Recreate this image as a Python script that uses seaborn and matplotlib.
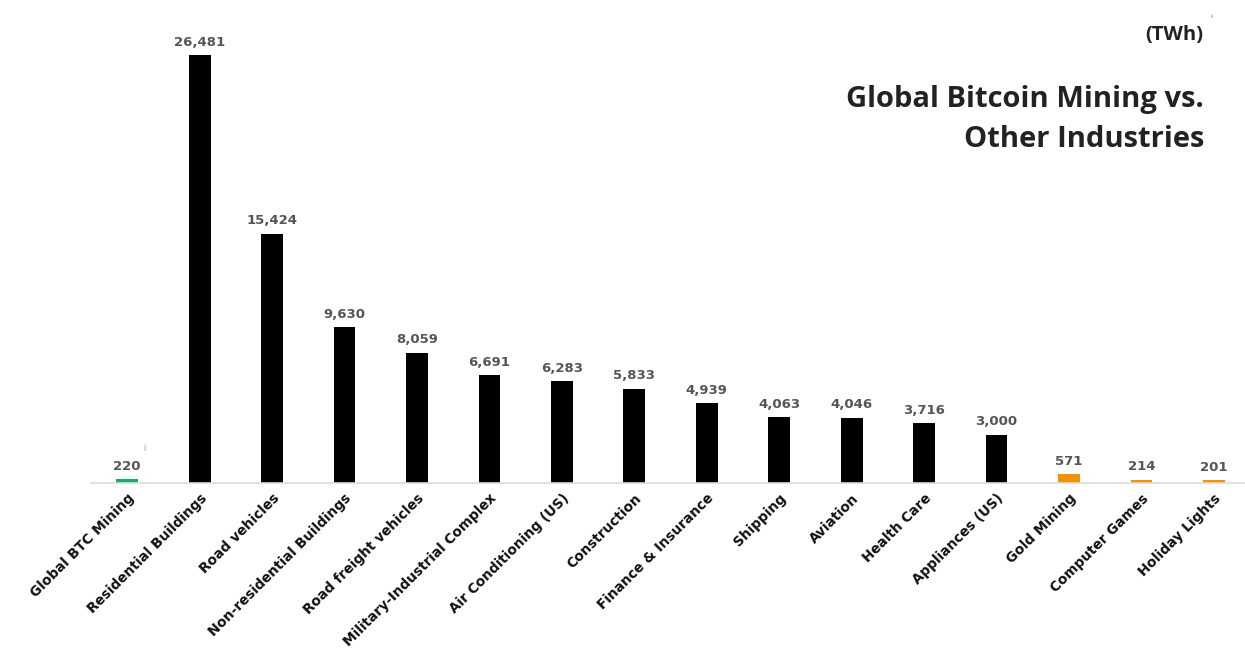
import matplotlib
matplotlib.use("Agg")
import matplotlib.pyplot as plt
import seaborn as sns
import pandas as pd

categories = ["Global BTC Mining", "Residential Buildings", "Road vehicles",
              "Non-residential Buildings", "Road freight vehicles",
              "Military-Industrial Complex", "Air Conditioning (US)", "Construction",
              "Finance & Insurance", "Shipping", "Aviation", "Health Care",
              "Appliances (US)", "Gold Mining", "Computer Games", "Holiday Lights"]
values_twh = [220, 26481, 15424, 9630, 8059, 6691, 6283, 5833,
              4939, 4063, 4046, 3716, 3000, 571, 214, 201]
value_labels = ["220", "26,481", "15,424", "9,630", "8,059", "6,691", "6,283", "5,833",
                "4,939", "4,063", "4,046", "3,716", "3,000", "571", "214", "201"]
groups = ["btc"] + ["other"] * 12 + ["small"] * 3

GREEN = "#17ad62"
BLACK = "#000000"
ORANGE = "#f39200"
group_colors = {"btc": GREEN, "other": BLACK, "small": ORANGE}
bar_colors = [group_colors[g] for g in groups]

df = pd.DataFrame({"category": categories, "value": values_twh})

sns.set_theme(style="white")
plt.rcParams["font.family"] = ["DejaVu Sans"]

fig = plt.figure(figsize=(12.45, 6.54), dpi=100)
ax = fig.add_axes([91 / 1245, (654 - 483) / 654, (1245 - 91) / 1245, 483 / 654])

sns.barplot(data=df, x="category", y="value", hue="category",
            palette=bar_colors, legend=False, width=0.30, ax=ax,
            saturation=1, edgecolor="none")

ax.set_xlim(-0.5, 15.43)
ax.set_ylim(0, 29884)

for patch, lab in zip(ax.patches, value_labels):
    cx = patch.get_x() + patch.get_width() / 2
    h = patch.get_height()
    ax.annotate(lab, (cx, h), xytext=(0, 4.5), textcoords="offset points",
                ha="center", va="bottom", fontsize=9.5, fontweight="bold",
                color="#555555")

# superscript note mark on the BTC value
first = ax.patches[0]
ax.annotate("i", (first.get_x() + first.get_width() / 2, first.get_height()),
            xytext=(12, 19), textcoords="offset points", ha="center", va="bottom",
            fontsize=5.5, color="#888888")

ax.set_xlabel("")
ax.set_ylabel("")
ax.set_yticks([])
ax.set_xticks(range(len(categories)))
ax.set_xticklabels(categories, rotation=45, ha="right", va="top",
                   rotation_mode="anchor", fontsize=9.8, fontweight="bold",
                   color="#111111")
ax.tick_params(axis="x", length=0, pad=6)

for side in ["left", "right", "top"]:
    ax.spines[side].set_visible(False)
ax.spines["bottom"].set_color("#dcdcdc")
ax.spines["bottom"].set_linewidth(1.2)

title_font = ["Open Sans", "DejaVu Sans"]
fig.text(1204 / 1245, 1 - 107 / 654, "Global Bitcoin Mining vs.",
         ha="right", va="baseline", fontsize=21, fontweight="bold",
         family=title_font, color="#222222")
fig.text(1204 / 1245, 1 - 147 / 654, "Other Industries",
         ha="right", va="baseline", fontsize=21, fontweight="bold",
         family=title_font, color="#222222")
fig.text(1203 / 1245, 1 - 35 / 654, "(TWh)", ha="right", va="center",
         fontsize=14.5, fontweight="bold", family=title_font,
         color="#222222")
fig.text(1212 / 1245, 1 - 16 / 654, "ii", ha="center", va="center",
         fontsize=4.5, color="#aaaaaa")

fig.savefig("out.png", dpi=100, facecolor="white")
